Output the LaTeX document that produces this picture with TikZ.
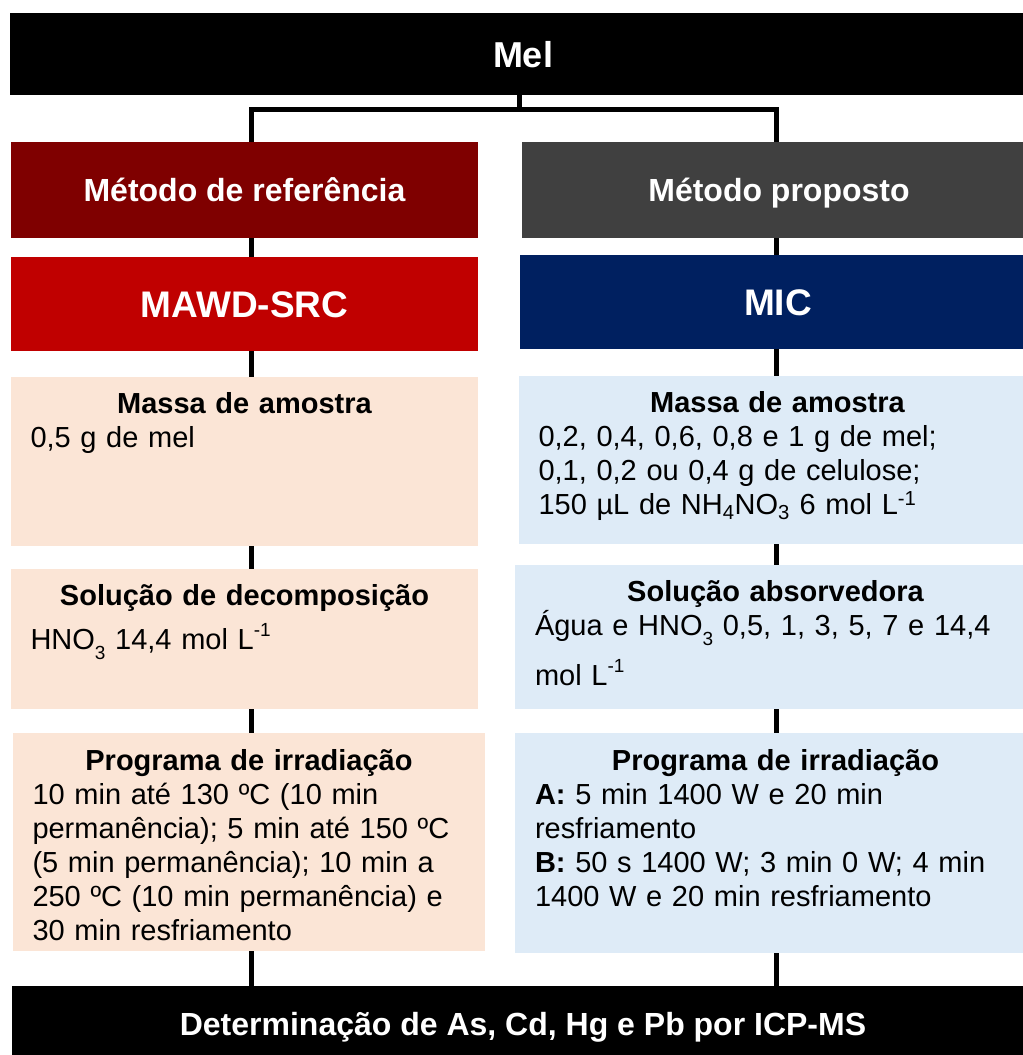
\documentclass[tikz,border=0pt]{standalone}
\usepackage{fontspec}
\setmainfont{Liberation Sans}
\usepackage{tikz}
\usetikzlibrary{positioning}

\definecolor{refred}{HTML}{7F0000}
\definecolor{propgray}{HTML}{404040}
\definecolor{srcred}{HTML}{C00000}
\definecolor{micblue}{HTML}{002060}
\definecolor{peach}{HTML}{FBE5D6}
\definecolor{paleblue}{HTML}{DEEBF7}

\newcommand{\lowsub}[1]{\smash{\raisebox{-10bp}{\fontsize{19bp}{19bp}\selectfont #1}}}
\newcommand{\highsup}[1]{\smash{\raisebox{13bp}{\fontsize{19bp}{19bp}\selectfont #1}}}
\newcommand{\boxhead}[1]{{\centering\bfseries\rule{0pt}{22bp}#1\par}}

\tikzset{
  bar/.style={fill=black, text=white, inner sep=0pt, text depth=0pt},
  head/.style={text=white, inner sep=0pt, text depth=0pt},
  panel/.style={inner sep=0pt},
  txt/.style={inner sep=0pt, align=left, font={\fontsize{29bp}{34bp}\selectfont\parindent=0pt}},
  link/.style={line width=5bp, draw=black},
}

\begin{document}
\begin{tikzpicture}
	\useasboundingbox (0bp,0bp) rectangle (1023bp,-1055bp);

	\node (mel) at (523bp,-54bp) [bar, minimum width=1026bp, minimum height=82bp,
		font=\fontsize{36bp}{40bp}\selectfont\bfseries, text height=26bp] {Mel};

	\node (ref)  at (244.5bp,-190bp) [head, fill=refred, minimum width=467bp, minimum height=96bp,
		font=\fontsize{32bp}{36bp}\selectfont\bfseries, text height=23bp] {Método de referência};
	\node (prop) at (779bp,-190bp)   [head, fill=propgray, minimum width=514bp, minimum height=96bp,
		font=\fontsize{32bp}{36bp}\selectfont\bfseries, text height=23bp] {Método proposto};

	\node (mawd) at (244.5bp,-304bp) [head, fill=srcred, minimum width=467bp, minimum height=94bp,
		font=\fontsize{37bp}{40bp}\selectfont\bfseries, text height=26.5bp] {MAWD-SRC};
	\node (mic)  at (778bp,-302bp)   [head, fill=micblue, minimum width=516bp, minimum height=94bp,
		font=\fontsize{37bp}{40bp}\selectfont\bfseries, text height=26.5bp] {MIC};

	% sample mass
	\node (massaL) at (244.5bp,-461.5bp) [panel, fill=peach, minimum width=467bp, minimum height=169bp] {};
	\node (massaR) at (777.5bp,-460bp)   [panel, fill=paleblue, minimum width=517bp, minimum height=168bp] {};
	\node (massaLt) [txt, text width=428bp, below=14bp of massaL.north]
		{\boxhead{Massa de amostra}0,5 g de mel};
	\node (massaRt) [txt, text width=478bp, below=14bp of massaR.north]
		{\boxhead{Massa de amostra}0,2, 0,4, 0,6, 0,8 e 1 g de mel;\\
		 0,1, 0,2 ou 0,4 g de celulose;\\
		 150 µL de NH\textsubscript{4}NO\textsubscript{3} 6 mol L\textsuperscript{-1}};

	% solutions
	\node (solL) at (244.5bp,-639bp) [panel, fill=peach, minimum width=467bp, minimum height=140bp] {};
	\node (solR) at (775.5bp,-637bp) [panel, fill=paleblue, minimum width=521bp, minimum height=144bp] {};
	\node (solLt) [txt, text width=428bp, below=14bp of solL.north]
		{\boxhead{Solução de decomposição}\vspace{10bp}HNO\lowsub{3\ }14,4 mol L\highsup{-1}};
	\node (solRt) [txt, text width=481bp, below=14bp of solR.north]
		{\boxhead{Solução absorvedora}Água e HNO\lowsub{3\ }0,5, 1, 3, 5, 7 e 14,4\\[16bp]
		 mol L\highsup{-1}};

	% irradiation programs
	\node (progL) at (249bp,-842bp)   [panel, fill=peach, minimum width=472bp, minimum height=218bp] {};
	\node (progR) at (775.5bp,-843bp) [panel, fill=paleblue, minimum width=521bp, minimum height=220bp] {};
	\node (progLt) [txt, text width=433bp, below=15bp of progL.north]
		{\boxhead{Programa de irradiação}10 min até 130 ºC (10 min\\
		 permanência); 5 min até 150 ºC\\
		 (5 min permanência); 10 min a\\
		 250 ºC (10 min permanência) e\\
		 30 min resfriamento};
	\node (progRt) [txt, text width=481bp, below=15bp of progR.north]
		{\boxhead{Programa de irradiação}\textbf{A:} 5 min 1400 W e 20 min\\
		 resfriamento\\
		 \textbf{B:} 50 s 1400 W; 3 min 0 W; 4 min\\
		 1400 W e 20 min resfriamento};

	\node (fim) at (523bp,-1024bp) [bar, minimum width=1022bp, minimum height=76bp,
		font=\fontsize{32bp}{36bp}\selectfont\bfseries, text height=23bp] {Determinação de As, Cd, Hg e Pb por ICP-MS};

	% connectors
	\coordinate (j)  at (519bp,-109bp);
	\coordinate (jL) at (251.5bp,-109bp);
	\coordinate (jR) at (776bp,-109bp);

	\draw [link] (j |- mel.south) -- (j);
	\draw [link] (jL |- ref.north) -- (jL) -- (jR) -- (jR |- prop.north);

	\draw [link] (jL |- ref.south)    -- (jL |- mawd.north)
	             (jL |- mawd.south)   -- (jL |- massaL.north)
	             (jL |- massaL.south) -- (jL |- solL.north)
	             (jL |- solL.south)   -- (jL |- progL.north)
	             (jL |- progL.south)  -- (jL |- fim.north);
	\draw [link] (jR |- prop.south)   -- (jR |- mic.north)
	             (jR |- mic.south)    -- (jR |- massaR.north)
	             (jR |- massaR.south) -- (jR |- solR.north)
	             (jR |- solR.south)   -- (jR |- progR.north)
	             (jR |- progR.south)  -- (jR |- fim.north);
\end{tikzpicture}
\end{document}
